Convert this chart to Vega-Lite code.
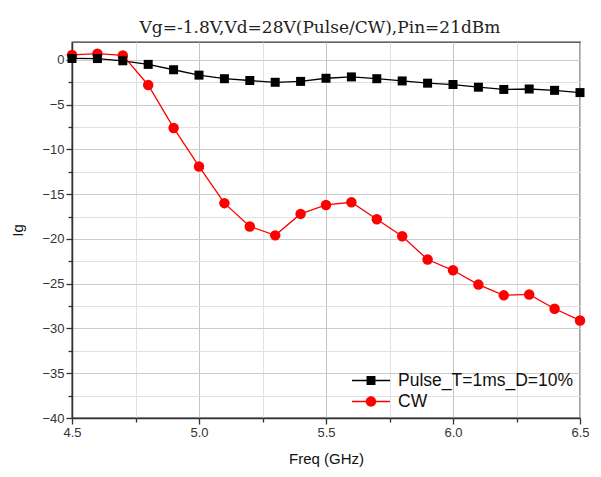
{
  "$schema": "https://vega.github.io/schema/vega-lite/v6.json",
  "width": 508,
  "height": 376,
  "autosize": {"type": "none"},
  "padding": {"left": 72, "top": 42, "right": 21, "bottom": 59},
  "background": "white",
  "title": {"text": "Vg=-1.8V,Vd=28V(Pulse/CW),Pin=21dBm", "font": "DejaVu Serif", "fontSize": 17, "fontWeight": "normal", "color": "#222", "offset": 5, "anchor": "middle", "dx": -6},
  "data": {"values": [
    {"f": 4.5, "ig": 0.16, "s": "Pulse_T=1ms_D=10%"},
    {"f": 4.6, "ig": 0.15, "s": "Pulse_T=1ms_D=10%"},
    {"f": 4.7, "ig": -0.1, "s": "Pulse_T=1ms_D=10%"},
    {"f": 4.8, "ig": -0.5, "s": "Pulse_T=1ms_D=10%"},
    {"f": 4.9, "ig": -1.1, "s": "Pulse_T=1ms_D=10%"},
    {"f": 5.0, "ig": -1.7, "s": "Pulse_T=1ms_D=10%"},
    {"f": 5.1, "ig": -2.1, "s": "Pulse_T=1ms_D=10%"},
    {"f": 5.2, "ig": -2.3, "s": "Pulse_T=1ms_D=10%"},
    {"f": 5.3, "ig": -2.5, "s": "Pulse_T=1ms_D=10%"},
    {"f": 5.4, "ig": -2.4, "s": "Pulse_T=1ms_D=10%"},
    {"f": 5.5, "ig": -2.05, "s": "Pulse_T=1ms_D=10%"},
    {"f": 5.6, "ig": -1.9, "s": "Pulse_T=1ms_D=10%"},
    {"f": 5.7, "ig": -2.1, "s": "Pulse_T=1ms_D=10%"},
    {"f": 5.8, "ig": -2.35, "s": "Pulse_T=1ms_D=10%"},
    {"f": 5.9, "ig": -2.6, "s": "Pulse_T=1ms_D=10%"},
    {"f": 6.0, "ig": -2.75, "s": "Pulse_T=1ms_D=10%"},
    {"f": 6.1, "ig": -3.05, "s": "Pulse_T=1ms_D=10%"},
    {"f": 6.2, "ig": -3.3, "s": "Pulse_T=1ms_D=10%"},
    {"f": 6.3, "ig": -3.25, "s": "Pulse_T=1ms_D=10%"},
    {"f": 6.4, "ig": -3.4, "s": "Pulse_T=1ms_D=10%"},
    {"f": 6.5, "ig": -3.65, "s": "Pulse_T=1ms_D=10%"},
    {"f": 4.5, "ig": 0.56, "s": "CW"},
    {"f": 4.6, "ig": 0.7, "s": "CW"},
    {"f": 4.7, "ig": 0.5, "s": "CW"},
    {"f": 4.8, "ig": -2.8, "s": "CW"},
    {"f": 4.9, "ig": -7.6, "s": "CW"},
    {"f": 5.0, "ig": -11.9, "s": "CW"},
    {"f": 5.1, "ig": -16.0, "s": "CW"},
    {"f": 5.2, "ig": -18.6, "s": "CW"},
    {"f": 5.3, "ig": -19.6, "s": "CW"},
    {"f": 5.4, "ig": -17.2, "s": "CW"},
    {"f": 5.5, "ig": -16.2, "s": "CW"},
    {"f": 5.6, "ig": -15.9, "s": "CW"},
    {"f": 5.7, "ig": -17.8, "s": "CW"},
    {"f": 5.8, "ig": -19.7, "s": "CW"},
    {"f": 5.9, "ig": -22.3, "s": "CW"},
    {"f": 6.0, "ig": -23.5, "s": "CW"},
    {"f": 6.1, "ig": -25.1, "s": "CW"},
    {"f": 6.2, "ig": -26.3, "s": "CW"},
    {"f": 6.3, "ig": -26.2, "s": "CW"},
    {"f": 6.4, "ig": -27.8, "s": "CW"},
    {"f": 6.5, "ig": -29.1, "s": "CW"}
  ]},
  "encoding": {
    "x": {"field": "f", "type": "quantitative", "scale": {"domain": [4.5, 6.5], "nice": false, "zero": false},
      "axis": {"title": "Freq (GHz)", "values": [4.5, 4.75, 5, 5.25, 5.5, 5.75, 6, 6.25, 6.5],
        "labelExpr": "datum.value % 0.5 == 0 ? format(datum.value, '.1f') : ''",
        "labelFlush": false, "labelOverlap": false,
        "gridColor": {"condition": {"test": "datum.value % 0.5 == 0", "value": "#c4c4c4"}, "value": "#e0e0e0"},
        "tickSize": {"condition": {"test": "datum.value % 0.5 == 0", "value": 6}, "value": 4},
        "titlePadding": 12}},
    "y": {"field": "ig", "type": "quantitative", "scale": {"domain": [-40, 2], "nice": false, "zero": false},
      "axis": {"title": "Ig", "values": [-40, -37.5, -35, -32.5, -30, -27.5, -25, -22.5, -20, -17.5, -15, -12.5, -10, -7.5, -5, -2.5, 0],
        "labelExpr": "datum.value % 5 == 0 ? format(datum.value, 'd') : ''",
        "labelFlush": false, "labelOverlap": false,
        "gridColor": {"condition": {"test": "datum.value % 5 == 0", "value": "#cccccc"}, "value": "#e0e0e0"},
        "tickSize": {"condition": {"test": "datum.value % 5 == 0", "value": 6}, "value": 4},
        "titleX": -47, "titleY": 188}}
  },
  "layer": [
    {"mark": {"type": "line", "strokeWidth": 1.3},
     "encoding": {"color": {"field": "s", "type": "nominal",
       "scale": {"domain": ["Pulse_T=1ms_D=10%", "CW"], "range": ["#000000", "#ff0000"]},
       "legend": {"orient": "none", "legendX": 280, "legendY": 329, "title": null,
         "labelFont": "Liberation Sans", "labelFontSize": 17.5, "labelColor": "#111", "labelLimit": 0,
         "symbolSize": 361, "labelOffset": 27, "rowPadding": 3,
         "encode": {"symbols": {"update": {
           "shape": {"signal": "datum.value == 'CW' ? 'M-1,-0.08H3V0.08H-1Z M1.55,0A0.55,0.55 0 1,1 0.45,0A0.55,0.55 0 1,1 1.55,0Z' : 'M-1,-0.08H3V0.08H-1Z M0.53,-0.47H1.47V0.47H0.53Z'"},
           "fill": {"signal": "datum.value == 'CW' ? '#ff0000' : '#000000'"},
           "fillOpacity": {"value": 1},
           "strokeWidth": {"value": 0}}}}}}}},
    {"transform": [{"filter": "datum.s == 'CW'"}],
     "mark": {"type": "point", "shape": "circle", "filled": true, "opacity": 1, "size": 110, "color": "#ff0000"}},
    {"transform": [{"filter": "datum.s != 'CW'"}],
     "mark": {"type": "point", "shape": "square", "filled": true, "opacity": 1, "size": 81, "color": "#000000"}}
  ],
  "config": {
    "view": {"stroke": "#333", "strokeWidth": 1.3},
    "axis": {"labelFont": "Liberation Sans", "labelFontSize": 13, "labelColor": "#333", "titleFont": "Liberation Sans", "titleFontSize": 15, "titleFontWeight": "normal", "titleColor": "#111", "domainColor": "#333", "domainWidth": 1.5, "tickColor": "#333", "tickWidth": 1.3, "gridWidth": 1}
  }
}
